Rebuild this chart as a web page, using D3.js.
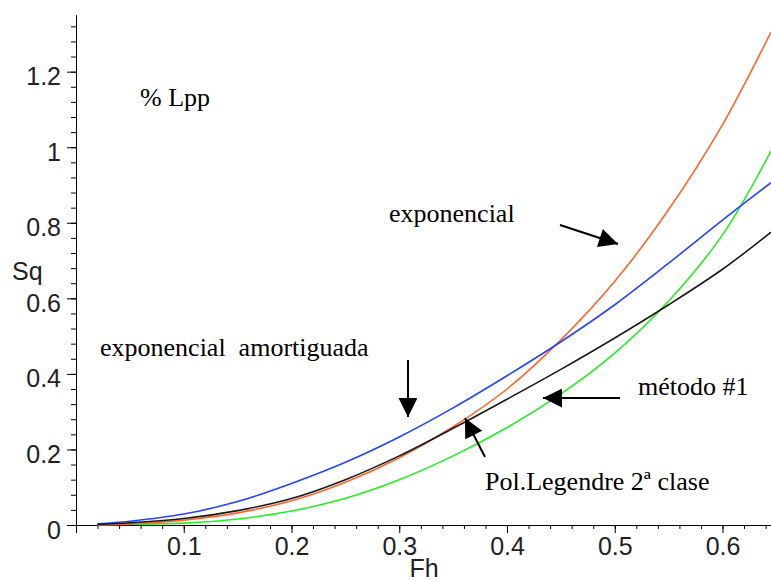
<!DOCTYPE html>
<html>
<head>
<meta charset="utf-8">
<script src="https://cdn.jsdelivr.net/npm/d3@7"></script>
<style>
	body { margin: 0; background: #fff; }
	svg { display: block; }
	.note { font-family: 'Liberation Serif', 'Times New Roman', serif; font-size: 26px; white-space: pre; }
	.axis text { font-family: 'Liberation Sans', Arial, sans-serif; font-size: 25px; fill: #222; }
</style>
</head>
<body>
<div id="chart"></div>
<script>
let width = 771
let height = 581

// Fh values where the curves were read
let fh = [0.02, 0.05, 0.1, 0.15, 0.2, 0.25, 0.3, 0.35, 0.4, 0.45, 0.5, 0.55, 0.6, 0.645]

// Sq for each method
let exponencial   = [0.001, 0.003, 0.013, 0.032, 0.064, 0.113, 0.178, 0.26, 0.36, 0.49, 0.645, 0.835, 1.06, 1.305]
let amortiguada   = [0.003, 0.01, 0.029, 0.062, 0.11, 0.166, 0.233, 0.31, 0.395, 0.485, 0.583, 0.693, 0.807, 0.906]
let metodo1       = [0.002, 0.006, 0.017, 0.038, 0.07, 0.12, 0.183, 0.256, 0.333, 0.412, 0.495, 0.583, 0.677, 0.775]
let legendre      = [0.001, 0.002, 0.005, 0.016, 0.037, 0.071, 0.12, 0.183, 0.258, 0.347, 0.455, 0.593, 0.768, 0.99]

let xTicks = [0, 0.1, 0.2, 0.3, 0.4, 0.5, 0.6]
let xTickLabels = ['', '0.1', '0.2', '0.3', '0.4', '0.5', '0.6']
let yTicks = [0, 0.2, 0.4, 0.6, 0.8, 1, 1.2]
let yTickLabels = ['0', '0.2', '0.4', '0.6', '0.8', '1', '1.2']

let series = [
	{ name: 'Pol.Legendre', values: legendre, color: '#22ee22' },
	{ name: 'exponencial', values: exponencial, color: '#ff6428' },
	{ name: 'amortiguada', values: amortiguada, color: '#2444ff' },
	{ name: 'metodo1', values: metodo1, color: '#1a1a1a' },
]

// annotations, in data units
let notes = [
	{ text: '% Lpp', x: 0.0594, y: 1.109 },
	{ text: 'exponencial', x: 0.2905, y: 0.802 },
	{ text: 'exponencial  amortiguada', x: 0.0223, y: 0.447 },
	{ text: 'método #1', x: 0.5216, y: 0.344 },
	{ text: 'Pol.Legendre 2ª clase', x: 0.3796, y: 0.0926 },
]
let arrows = [
	{ x1: 0.4492, y1: 0.794, x2: 0.503, y2: 0.744 },
	{ x1: 0.3081, y1: 0.4367, x2: 0.3081, y2: 0.2859 },
	{ x1: 0.5049, y1: 0.336, x2: 0.4334, y2: 0.336 },
	{ x1: 0.3796, y1: 0.18, x2: 0.361, y2: 0.283 },
]

let xScale = d3.scaleLinear()
	.domain([0, 0.645])
	.range([76, 771])

let yScale = d3.scaleLinear()
	.domain([0, 1.35])
	.range([525, 15])

let svg = d3.select('#chart').append('svg')
	.attr('width', width)
	.attr('height', height)

// minor ticks first
let xMinor = d3.axisBottom(xScale)
	.tickValues(d3.range(0, 0.645, 0.02))
	.tickSize(4)
	.tickSizeOuter(0)
	.tickFormat('')

let yMinor = d3.axisLeft(yScale)
	.tickValues(d3.range(0, 1.35, 0.04))
	.tickSize(5)
	.tickSizeOuter(0)
	.tickFormat('')

svg.append('g').attr('class', 'axis').attr('transform', 'translate(0,525)').call(xMinor)
svg.append('g').attr('class', 'axis').attr('transform', 'translate(76,0)').call(yMinor)

let xAxis = d3.axisBottom(xScale)
	.tickValues(xTicks)
	.tickSize(8)
	.tickSizeOuter(0)
	.tickPadding(4)
	.tickFormat((d, i) => xTickLabels[i])

let yAxis = d3.axisLeft(yScale)
	.tickValues(yTicks)
	.tickSize(9)
	.tickSizeOuter(0)
	.tickPadding(6)
	.tickFormat((d, i) => yTickLabels[i])

let gx = svg.append('g').attr('class', 'axis').attr('transform', 'translate(0,525)').call(xAxis)
let gy = svg.append('g').attr('class', 'axis').attr('transform', 'translate(76,0)').call(yAxis)

gy.selectAll('text').attr('dy', '0.52em')
svg.selectAll('.axis').attr('font-size', null).attr('font-family', null)
svg.selectAll('.axis line, .axis path').attr('stroke', '#000')

svg.append('text')
	.attr('x', 424)
	.attr('y', 577)
	.attr('text-anchor', 'middle')
	.style('font-family', "'Liberation Sans', Arial, sans-serif")
	.style('font-size', '25px')
	.attr('fill', '#222')
	.text('Fh')

svg.append('text')
	.attr('x', 12)
	.attr('y', 280)
	.style('font-family', "'Liberation Sans', Arial, sans-serif")
	.style('font-size', '25px')
	.attr('fill', '#222')
	.text('Sq')

let line = d3.line()
	.x((d, i) => xScale(fh[i]))
	.y(d => yScale(d))
	.curve(d3.curveCatmullRom.alpha(0.5))

let marks = svg.append('g')

marks.selectAll('path')
	.data(series)
	.enter().append('path')
	.attr('d', d => line(d.values))
	.attr('fill', 'none')
	.attr('stroke', d => d.color)
	.attr('stroke-width', 1.6)

svg.append('defs').append('marker')
	.attr('id', 'head')
	.attr('viewBox', '0 0 10 10')
	.attr('refX', 10)
	.attr('refY', 5)
	.attr('markerWidth', 21)
	.attr('markerHeight', 19)
	.attr('markerUnits', 'userSpaceOnUse')
	.attr('orient', 'auto')
	.append('path')
	.attr('d', 'M0,0L10,5L0,10Z')
	.attr('fill', '#000')

svg.append('g').selectAll('line')
	.data(arrows)
	.enter().append('line')
	.attr('x1', d => xScale(d.x1))
	.attr('y1', d => yScale(d.y1))
	.attr('x2', d => xScale(d.x2))
	.attr('y2', d => yScale(d.y2))
	.attr('stroke', '#000')
	.attr('stroke-width', 2)
	.attr('marker-end', 'url(#head)')

svg.append('g').selectAll('text')
	.data(notes)
	.enter().append('text')
	.attr('class', 'note')
	.attr('x', d => xScale(d.x))
	.attr('y', d => yScale(d.y))
	.text(d => d.text)
</script>
</body>
</html>
